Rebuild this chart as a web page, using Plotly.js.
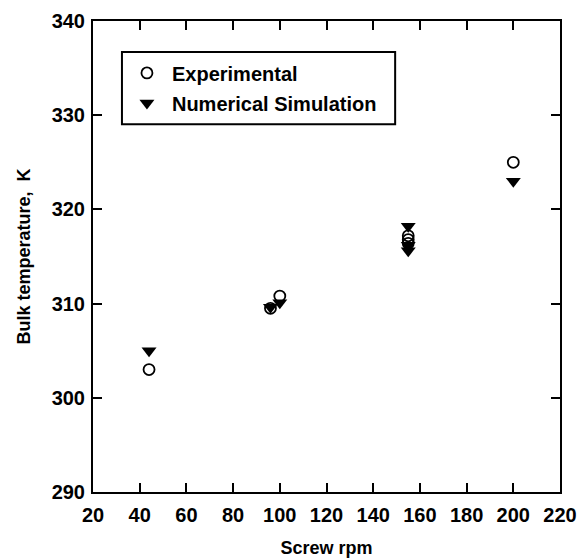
<!DOCTYPE html>
<html>
<head>
<meta charset="utf-8">
<script src="https://cdn.plot.ly/plotly-3.0.1.min.js"></script>
<style>html,body{margin:0;padding:0;background:#fff;}#chart{width:582px;height:558px;}</style>
</head>
<body>
<div id="chart"></div>
<script>
const expRpm = [44, 96, 100, 155, 155, 155, 200];
const expTemp = [303.0, 309.5, 310.8, 317.2, 316.8, 316.4, 325.0];
const simRpm = [44, 96, 100, 155, 155, 155, 200];
const simTemp = [305.0, 309.6, 310.1, 318.2, 316.2, 315.6, 323.0];
const xTicks = [20, 40, 60, 80, 100, 120, 140, 160, 180, 200, 220];
const yTicks = [290, 300, 310, 320, 330, 340];

const fontFam = '"Liberation Sans", Arial, Helvetica, sans-serif';

const traces = [
  {
    x: expRpm, y: expTemp, mode: 'markers', type: 'scatter', name: 'Experimental', legendgroup: 'a',
    marker: {symbol: 'circle-open', size: 11, color: '#000', line: {width: 1.8, color: '#000'}}
  },
  {
    x: simRpm, y: simTemp, mode: 'markers', type: 'scatter', name: 'Numerical Simulation', legendgroup: 'b',
    marker: {symbol: 'triangle-down', size: 13, color: '#000', line: {width: 0}}
  }
];

const axisCommon = {
  showgrid: false, zeroline: false, showline: true, linecolor: '#000', linewidth: 2,
  mirror: 'ticks', ticks: 'inside', ticklen: 9, tickwidth: 2, tickcolor: '#000',
  tickfont: {family: fontFam, size: 20, color: '#000', weight: 'bold'}
};

const layout = {
  width: 582, height: 558,
  margin: {l: 93, r: 22, t: 21, b: 66},
  paper_bgcolor: '#fff', plot_bgcolor: '#fff',
  showlegend: true,
  legend: {
    x: 0.062, y: 0.858, xanchor: 'left', yanchor: 'middle',
    borderwidth: 0, bgcolor: 'rgba(0,0,0,0)',
    font: {family: fontFam, size: 20, color: '#000', weight: 'bold'},
    tracegroupgap: 1, itemwidth: 40
  },
  shapes: [{
    type: 'rect', xref: 'paper', yref: 'paper',
    x0: 0.062, x1: 0.647, y0: 0.781, y1: 0.934,
    line: {color: '#000', width: 2}, fillcolor: 'rgba(0,0,0,0)'
  }],
  xaxis: Object.assign({}, axisCommon, {
    range: [20, 220], tickvals: xTicks, ticktext: xTicks.map(String),
    ticklabelstandoff: 4,
    title: {text: 'Screw rpm', font: {family: fontFam, size: 18, color: '#000', weight: 'bold'}, standoff: 18}
  }),
  yaxis: Object.assign({}, axisCommon, {
    range: [290, 340], tickvals: yTicks, ticktext: yTicks.map(String),
    ticklabelstandoff: 2,
    title: {text: 'Bulk temperature,  K', font: {family: fontFam, size: 18, color: '#000', weight: 'bold'}, standoff: 16}
  })
};

Plotly.newPlot('chart', traces, layout, {displayModeBar: false, staticPlot: true});
</script>
</body>
</html>
